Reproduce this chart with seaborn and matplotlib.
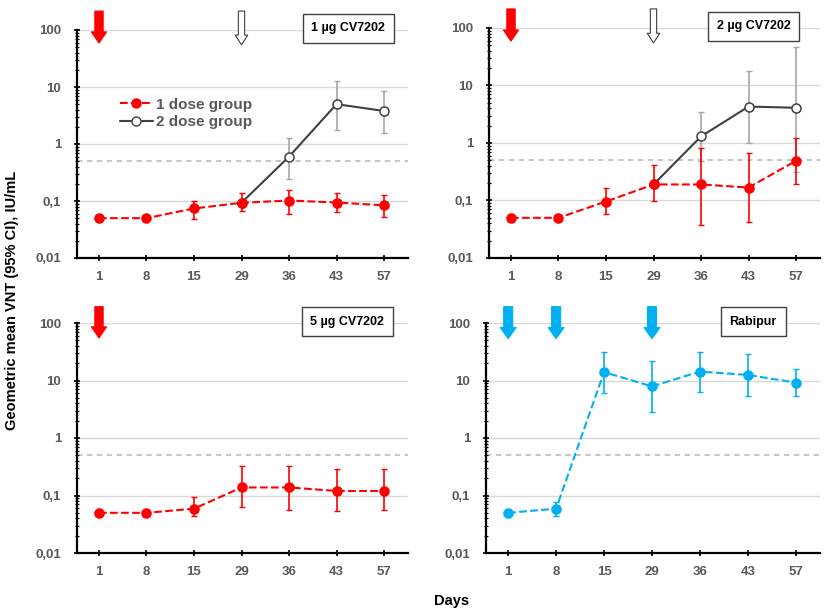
import numpy as np
import pandas as pd
import matplotlib
matplotlib.use("Agg")
import matplotlib.pyplot as plt
import matplotlib.ticker as mticker
from matplotlib.lines import Line2D
import seaborn as sns

sns.set_theme(style="white")
plt.rcParams['font.family'] = ['Liberation Sans', 'DejaVu Sans']

# ---------------- data ----------------
days = ["1", "8", "15", "29", "36", "43", "57"]
y_ticks = [0.01, 0.1, 1, 10, 100]
y_tick_labels = ["0,01", "0,1", "1", "10", "100"]
threshold = 0.5

# 1 µg CV7202
p1_one_val = [0.05, 0.05, 0.074, 0.093, 0.102, 0.094, 0.084]
p1_one_lo = [np.nan, np.nan, 0.049, 0.067, 0.060, 0.064, 0.053]
p1_one_hi = [np.nan, np.nan, 0.100, 0.138, 0.157, 0.138, 0.125]
p1_two_val = [np.nan, np.nan, np.nan, 0.093, 0.60, 5.0, 3.8]
p1_two_lo = [np.nan, np.nan, np.nan, np.nan, 0.24, 1.77, 1.59]
p1_two_hi = [np.nan, np.nan, np.nan, np.nan, 1.27, 13.0, 8.5]

# 2 µg CV7202
p2_one_val = [0.05, 0.05, 0.096, 0.19, 0.19, 0.168, 0.49]
p2_one_lo = [np.nan, np.nan, 0.059, 0.098, 0.038, 0.043, 0.19]
p2_one_hi = [np.nan, np.nan, 0.164, 0.41, 0.82, 0.66, 1.22]
p2_two_val = [np.nan, np.nan, np.nan, 0.19, 1.3, 4.3, 4.1]
p2_two_lo = [np.nan, np.nan, np.nan, np.nan, 0.48, 1.0, 0.31]
p2_two_hi = [np.nan, np.nan, np.nan, np.nan, 3.4, 17.6, 47.0]

# 5 µg CV7202
p3_one_val = [0.05, 0.05, 0.059, 0.138, 0.138, 0.12, 0.12]
p3_one_lo = [np.nan, np.nan, 0.044, 0.064, 0.057, 0.054, 0.057]
p3_one_hi = [np.nan, np.nan, 0.094, 0.33, 0.33, 0.29, 0.29]

# Rabipur
p4_val = [0.05, 0.059, 14.0, 7.9, 14.3, 12.5, 9.2]
p4_lo = [np.nan, 0.044, 6.0, 2.8, 6.3, 5.3, 5.3]
p4_hi = [np.nan, 0.077, 31.0, 22.0, 31.6, 29.0, 15.7]

panel_titles = ["1 µg CV7202", "2 µg CV7202", "5 µg CV7202", "Rabipur"]
legend_labels = ["1 dose group", "2 dose group"]

RED = "#FF0000"
BLUE = "#00B0F0"
DARK = "#404040"
GREYBAR = "#A6A6A6"
TXT = "#595959"
MS = 6.5

pos = np.arange(len(days))

fig = plt.figure(figsize=(8.27, 6.15), dpi=100)
W, H = 827, 615


def make_ax(l, r, t, b):
    return fig.add_axes([l / W, 1 - b / H, (r - l) / W, (b - t) / H])


axes = [
    make_ax(77, 408, 30, 258),
    make_ax(489, 820, 28, 258),
    make_ax(77, 408, 323, 553),
    make_ax(486, 820, 323, 553),
]


def series(ax, vals, lo, hi, color, ecolor, ls, mfc, zorder):
    df = pd.DataFrame({"pos": pos, "val": vals})
    df = df.dropna()
    v = np.array(vals, dtype=float)
    lo = np.array(lo, dtype=float)
    hi = np.array(hi, dtype=float)
    m = ~np.isnan(lo)
    ax.errorbar(pos[m], v[m], yerr=[v[m] - lo[m], hi[m] - v[m]], fmt="none",
                ecolor=ecolor, elinewidth=1.2, capsize=2, capthick=1,
                zorder=zorder - 0.5)
    sns.lineplot(data=df, x="pos", y="val", ax=ax, color=color, linestyle=ls,
                 linewidth=1.5, marker="o", markersize=MS,
                 markerfacecolor=mfc, markeredgecolor=color,
                 markeredgewidth=1.1, zorder=zorder, legend=False)


def arrow(ax, x, y0, y1, fc, ec, tw=0.6, hw=1.1, hl=0.8, lw=0.8):
    tr = ax.get_xaxis_transform()
    ax.annotate("", xy=(x, y1), xytext=(x, y0), xycoords=tr, textcoords=tr,
                annotation_clip=False,
                arrowprops=dict(arrowstyle=f"simple,head_length={hl},head_width={hw},tail_width={tw}",
                                fc=fc, ec=ec, lw=lw, shrinkA=0, shrinkB=0,
                                mutation_scale=10))


def style_ax(ax, title, tx, ty):
    ax.set_yscale("log")
    ax.set_ylim(0.01, 100)
    ax.set_xlim(-0.463, 6.505)
    for yv in [0.1, 1, 10, 100]:
        ax.axhline(yv, color="#D9D9D9", lw=1.0, zorder=0)
    ax.axhline(threshold, color="#B5B5B5", lw=1.1, ls=(0, (3.5, 3)), zorder=0.5)
    ax.set_yticks(y_ticks, labels=y_tick_labels)
    ax.yaxis.set_minor_locator(mticker.LogLocator(base=10, subs=np.arange(2, 10), numticks=20))
    ax.yaxis.set_minor_formatter(mticker.NullFormatter())
    ax.set_xticks(pos, labels=days)
    ax.tick_params(axis="y", which="major", direction="inout", length=5, width=1.2,
                   color="black", labelsize=9.5, labelcolor=TXT, pad=9, left=True)
    ax.tick_params(axis="y", which="minor", direction="inout", length=3, width=0.9,
                   color="black", left=True)
    ax.tick_params(axis="x", which="major", direction="inout", length=5, width=1.2,
                   color="black", labelsize=9.5, labelcolor=TXT, pad=7, bottom=True)
    for lab in ax.get_xticklabels() + ax.get_yticklabels():
        lab.set_fontweight("bold")
    for s in ["top", "right"]:
        ax.spines[s].set_visible(False)
    for s in ["left", "bottom"]:
        ax.spines[s].set_color("black")
        ax.spines[s].set_linewidth(1.6)
    ax.set_xlabel("")
    ax.set_ylabel("")
    ax.text(tx, ty, title, transform=ax.transAxes, ha="center", va="center",
            fontsize=9, fontweight="bold", color="black", zorder=10,
            bbox=dict(boxstyle="square,pad=0.7", fc="white", ec=DARK, lw=1.0))


# Panel 1
ax = axes[0]
series(ax, p1_two_val, p1_two_lo, p1_two_hi, DARK, GREYBAR, "-", "white", 3)
series(ax, p1_one_val, p1_one_lo, p1_one_hi, RED, RED, "--", RED, 4)
style_ax(ax, panel_titles[0], 0.82, 1.007)
arrow(ax, 0, 1.083, 0.943, RED, RED)
arrow(ax, 3, 1.083, 0.935, "white", DARK, tw=0.45, hw=0.9, hl=0.7)
handles = [
    Line2D([], [], color=RED, ls="--", lw=1.5, marker="o", markersize=MS,
           markerfacecolor=RED, markeredgecolor=RED),
    Line2D([], [], color=DARK, ls="-", lw=1.5, marker="o", markersize=MS,
           markerfacecolor="white", markeredgecolor=DARK),
]
leg = ax.legend(handles, legend_labels, loc="upper left", bbox_to_anchor=(0.11, 0.73),
                frameon=False, fontsize=11, handlelength=2.2, handletextpad=0.2,
                labelspacing=0.25, borderaxespad=0)
for t in leg.get_texts():
    t.set_color(TXT)
    t.set_fontweight("bold")

# Panel 2
ax = axes[1]
series(ax, p2_two_val, p2_two_lo, p2_two_hi, DARK, GREYBAR, "-", "white", 3)
series(ax, p2_one_val, p2_one_lo, p2_one_hi, RED, RED, "--", RED, 4)
style_ax(ax, panel_titles[1], 0.80, 1.007)
arrow(ax, 0, 1.083, 0.943, RED, RED)
arrow(ax, 3, 1.083, 0.935, "white", DARK, tw=0.45, hw=0.9, hl=0.7)

# Panel 3
ax = axes[2]
series(ax, p3_one_val, p3_one_lo, p3_one_hi, RED, RED, "--", RED, 4)
style_ax(ax, panel_titles[2], 0.817, 1.006)
arrow(ax, 0, 1.071, 0.935, RED, RED)

# Panel 4
ax = axes[3]
series(ax, p4_val, p4_lo, p4_hi, BLUE, BLUE, "--", BLUE, 4)
style_ax(ax, panel_titles[3], 0.80, 1.006)
for p in [0, 1, 3]:
    arrow(ax, p, 1.071, 0.932, BLUE, BLUE, tw=0.65, hw=1.15, hl=0.8)

fig.text(12 / W, 1 - 300 / H, "Geometric mean VNT (95% CI), IU/mL", rotation=90,
         ha="center", va="center", fontsize=10.5, fontweight="bold", color="black")
fig.text(452 / W, 1 - 601 / H, "Days", ha="center", va="center",
         fontsize=10.5, fontweight="bold", color="black")

fig.savefig("out.png", dpi=100)
